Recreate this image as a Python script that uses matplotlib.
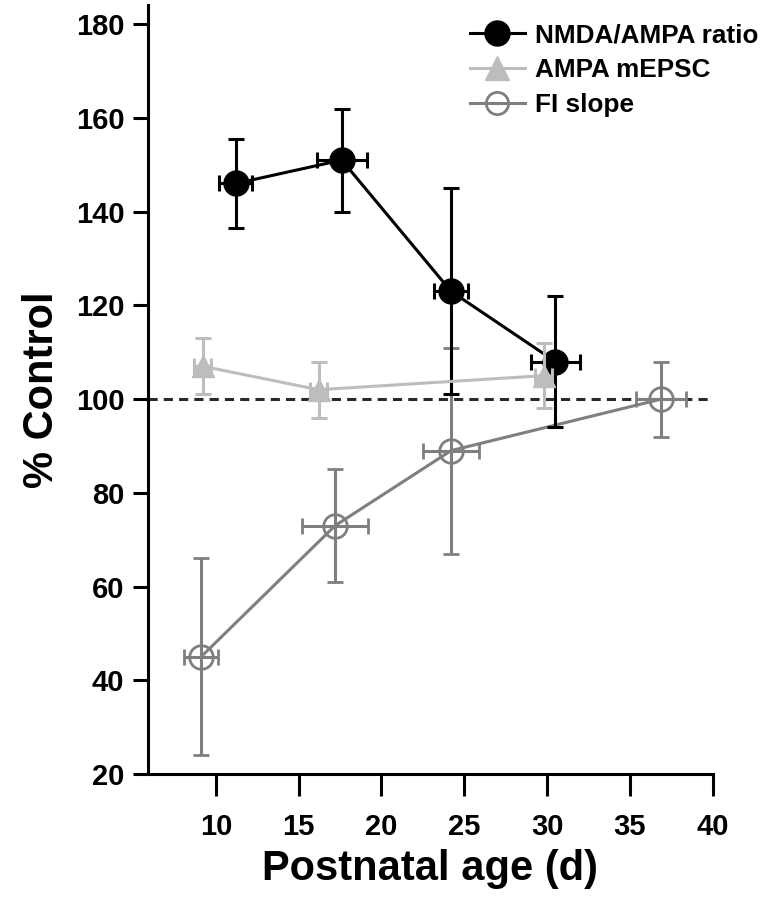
import matplotlib
matplotlib.use("Agg")
import matplotlib.pyplot as plt
from matplotlib.lines import Line2D

plt.rcParams['font.family'] = ['Liberation Sans', 'DejaVu Sans']
plt.rcParams['font.weight'] = 'bold'

# NMDA/AMPA ratio
nmda_age = [11.2, 17.6, 24.2, 30.5]
nmda_age_err = [1.0, 1.5, 1.0, 1.5]
nmda_val = [146, 151, 123, 108]
nmda_err = [9.5, 11, 22, 14]

# AMPA mEPSC
ampa_age = [9.2, 16.2, 29.8]
ampa_age_err = [0.5, 0.5, 0.5]
ampa_val = [107, 102, 105]
ampa_err = [6, 6, 7]

# FI slope
fi_age = [9.1, 17.2, 24.2, 36.9]
fi_age_err = [1.0, 2.0, 1.7, 1.5]
fi_val = [45, 73, 89, 100]
fi_err = [21, 12, 22, 8]

fig = plt.figure(figsize=(7.63, 8.99), dpi=100)
ax = fig.add_axes([0.194, 0.139, 0.740, 0.855])

# ligne de référence 100 %
ax.plot([5.9, 40], [100, 100], color='#2a2a2a', lw=2.2, dashes=(3, 2), zorder=1)

ax.errorbar(fi_age, fi_val, xerr=fi_age_err, yerr=fi_err, color='#7f7f7f', lw=2.2,
            elinewidth=2.2, capsize=5.5, capthick=2.2, marker='o', markersize=17,
            markerfacecolor='none', markeredgewidth=2, zorder=2)
ax.errorbar(nmda_age, nmda_val, xerr=nmda_age_err, yerr=nmda_err, color='black', lw=2.2,
            elinewidth=2.2, capsize=5.5, capthick=2.2, marker='o', markersize=18,
            zorder=3)
ax.errorbar(ampa_age, ampa_val, xerr=ampa_age_err, yerr=ampa_err, color='#bdbdbd', lw=2.2,
            elinewidth=2.2, capsize=5.5, capthick=2.2, marker='^', markersize=16,
            zorder=4)

ax.set_xlim(5.9, 40)
ax.set_ylim(20, 184)
ax.set_xticks([10, 15, 20, 25, 30, 35, 40])
ax.set_yticks(range(20, 181, 20))

for s in ['top', 'right']:
    ax.spines[s].set_visible(False)
for s in ['left', 'bottom']:
    ax.spines[s].set_linewidth(2.2)
ax.spines['bottom'].set_bounds(5.9, 40)

ax.tick_params(axis='x', length=16, width=2.2, pad=12, labelsize=21)
ax.tick_params(axis='y', length=11, width=2.2, pad=6, labelsize=21)

ax.set_xlabel('Postnatal age (d)', fontsize=30, fontweight='bold', labelpad=6)
ax.set_ylabel('% Control', fontsize=30, fontweight='bold', labelpad=10)

handles = [
    Line2D([], [], color='black', lw=2.2, marker='o', markersize=18),
    Line2D([], [], color='#bdbdbd', lw=2.2, marker='^', markersize=17),
    Line2D([], [], color='#7f7f7f', lw=2.2, marker='o', markersize=16,
           markerfacecolor='none', markeredgewidth=2),
]
labels = ['NMDA/AMPA ratio', 'AMPA mEPSC', 'FI slope']
ax.legend(handles, labels, loc='upper right', frameon=False, fontsize=18.8,
          handlelength=2.1, handletextpad=0.4, labelspacing=0.42,
          borderaxespad=0.0, bbox_to_anchor=(1.1, 0.99))

fig.savefig('out.png', dpi=100)
